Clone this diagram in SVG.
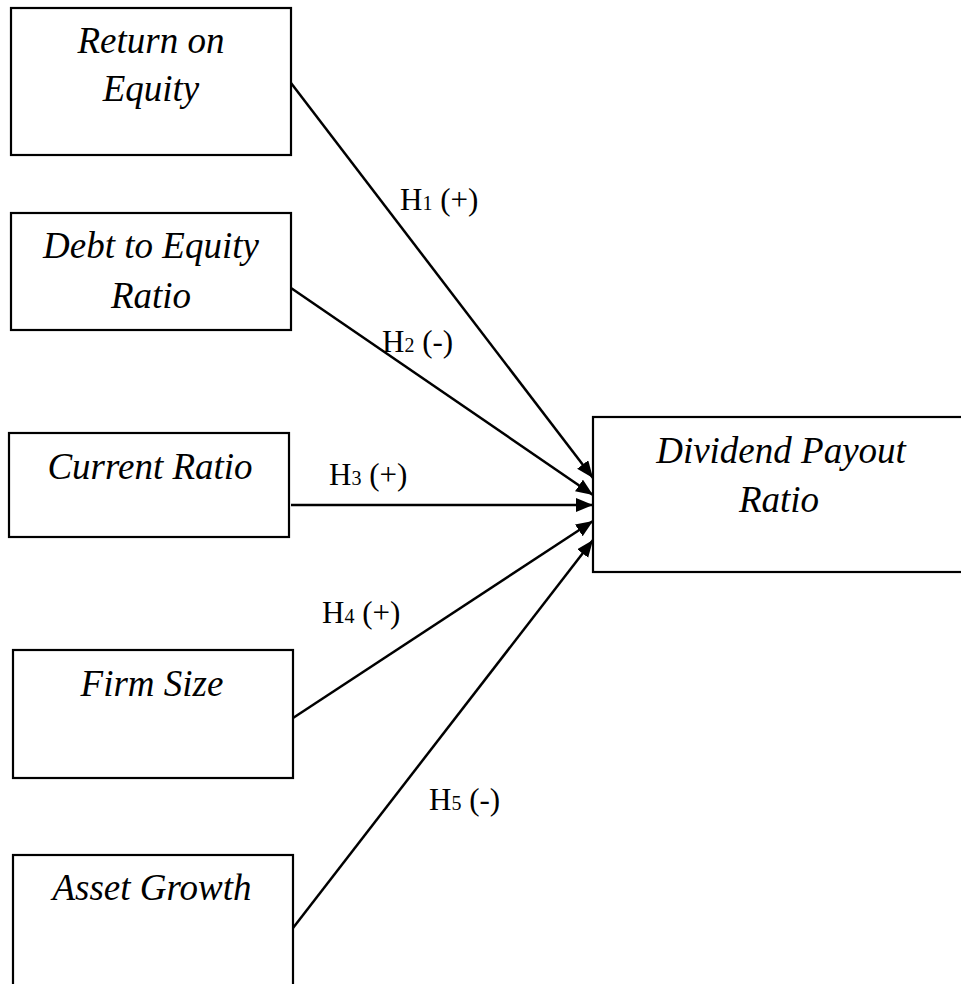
<svg xmlns="http://www.w3.org/2000/svg" width="961" height="984" viewBox="0 0 961 984">
<style>
.box{fill:#fff;stroke:#000;stroke-width:2.2}
.nt{font-family:"Liberation Serif","Times New Roman",serif;font-style:italic;font-size:37px;fill:#000;text-anchor:middle}
.lb{font-family:"Liberation Serif","Times New Roman",serif;font-size:31px;fill:#000}
.sub{font-size:20px}
.ln{stroke:#000;stroke-width:2.5;fill:none;marker-end:url(#ah)}
</style>
<defs>
<marker id="ah" markerUnits="userSpaceOnUse" markerWidth="18" markerHeight="15" refX="17" refY="7" orient="auto">
<path d="M0,0 L17,7 L0,14 z" fill="#000"/>
</marker>
</defs>
<rect width="961" height="984" fill="#fff"/>
<g id="connectors">
<line class="ln" x1="291" y1="83" x2="593" y2="478"/>
<line class="ln" x1="291" y1="288" x2="593" y2="495"/>
<line class="ln" x1="291" y1="505" x2="593" y2="505"/>
<line class="ln" x1="293" y1="718" x2="593" y2="521"/>
<line class="ln" x1="293" y1="928" x2="593" y2="540"/>
<text class="lb" x="400" y="210">H<tspan class="sub">1</tspan> (+)</text>
<text class="lb" x="382" y="352">H<tspan class="sub">2</tspan> (-)</text>
<text class="lb" x="329" y="485">H<tspan class="sub">3</tspan> (+)</text>
<text class="lb" x="322" y="623">H<tspan class="sub">4</tspan> (+)</text>
<text class="lb" x="429" y="810">H<tspan class="sub">5</tspan> (-)</text>
</g>
<g id="roe">
<rect class="box" x="11" y="8" width="280" height="147"/>
<text class="nt" x="151" y="53">Return on</text>
<text class="nt" x="151" y="101">Equity</text>
</g>
<g id="der">
<rect class="box" x="11" y="213" width="280" height="117"/>
<text class="nt" x="151" y="258">Debt to Equity</text>
<text class="nt" x="151" y="308">Ratio</text>
</g>
<g id="cr">
<rect class="box" x="9" y="433" width="280" height="104"/>
<text class="nt" x="150" y="479">Current Ratio</text>
</g>
<g id="fs">
<rect class="box" x="13" y="650" width="280" height="128"/>
<text class="nt" x="152" y="696">Firm Size</text>
</g>
<g id="ag">
<rect class="box" x="13" y="855" width="280" height="140"/>
<text class="nt" x="152" y="900">Asset Growth</text>
</g>
<g id="dpr">
<rect class="box" x="593" y="417" width="380" height="155"/>
<text class="nt" x="781" y="463">Dividend Payout</text>
<text class="nt" x="779" y="512">Ratio</text>
</g>
</svg>
